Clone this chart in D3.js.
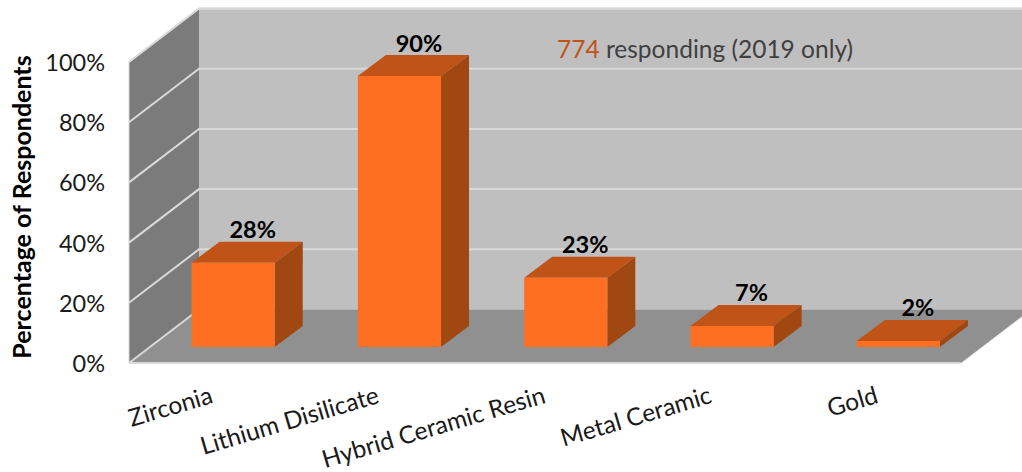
<!DOCTYPE html>
<html><head><meta charset="utf-8">
<script src="https://cdn.jsdelivr.net/npm/d3@7/dist/d3.min.js"></script>
<style>html,body{margin:0;background:#fff}svg{display:block}text{font-family:Lato,"Open Sans",sans-serif}</style>
</head><body><svg id="c" width="1022" height="472"></svg>
<script>
const categories = ["Zirconia","Lithium Disilicate","Hybrid Ceramic Resin","Metal Ceramic","Gold"];
const values = [28,90,23,7,2];
const yTicks = [0,20,40,60,80,100];
const note = ["774"," responding (2019 only)"];
const svg = d3.select("#c");
const W=1022,H=472;
// front plane of the chart box
const x = d3.scaleBand().domain(categories).range([150,981.5]).paddingInner(0.5).paddingOuter(0.25);
const y = d3.scaleLinear().domain([0,100]).range([363,62]);
const dx=70, dy=-53.5;           // full depth of the box
const barBase=347, bdx=28, bdy=-21; // bar base and bar depth
const h = v => y(0)-y(v);
const poly=(pts,fill,stroke)=>svg.append("polygon").attr("points",pts.map(p=>p.join(",")).join(" ")).attr("fill",fill).attr("stroke",stroke||"none");
const x0=129,x1=961.5;
// back wall
poly([[x0+dx,y(100)+dy],[W,y(100)+dy],[W,y(0)+dy],[x0+dx,y(0)+dy]],"#bfbfbf");
svg.append("line").attr("x1",x0+dx).attr("x2",W).attr("y1",y(100)+dy).attr("y2",y(100)+dy).attr("stroke","#d9d9d9").attr("stroke-width",2);
// side wall
poly([[x0,y(100)],[x0+dx,y(100)+dy],[x0+dx,y(0)+dy],[x0,y(0)]],"#7b7b7b");
// floor
poly([[x0,y(0)],[x0+dx,y(0)+dy],[W,y(0)+dy],[W,y(0)+dy*(W-x1)/dx],[x1,y(0)]],"#909090");
// gridlines
yTicks.forEach(t=>{
  const Y=y(t);
  svg.append("path").attr("fill","none").attr("stroke","#d9d9d9").attr("stroke-width",2)
   .attr("d",`M${x0},${Y}L${x0+dx},${Y+dy}`+(t===0?"":`L${W},${Y+dy}`));
});
svg.append("line").attr("x1",x0).attr("x2",x1).attr("y1",y(0)).attr("y2",y(0)).attr("stroke","#d9d9d9").attr("stroke-width",2);
svg.append("line").attr("x1",x0).attr("x2",x0).attr("y1",y(0)).attr("y2",y(100)).attr("stroke","#d9d9d9").attr("stroke-width",1);
svg.append("line").attr("x1",x0).attr("x2",x0+dx).attr("y1",y(100)).attr("y2",y(100)+dy).attr("stroke","#d9d9d9").attr("stroke-width",1.5);
svg.append("line").attr("x1",x1).attr("x2",W).attr("y1",y(0)).attr("y2",y(0)+dy*(W-x1)/dx).attr("stroke","#e4e4e4").attr("stroke-width",1);
// bars
categories.forEach((c,i)=>{
  const v=values[i], l=x(c), r=l+x.bandwidth(), t=barBase-h(v);
  poly([[l,t],[l+bdx,t+bdy],[r+bdx,t+bdy],[r,t]],"#c05317");
  poly([[r,t],[r+bdx,t+bdy],[r+bdx,barBase+bdy],[r,barBase]],"#a04712");
  poly([[l,barBase],[l,t],[r,t],[r,barBase]],"#ff6f21");
  svg.append("text").attr("x",(l+r)/2+bdx-8.5).attr("y",t+bdy-3.5).attr("text-anchor","middle")
    .attr("font-size",23.5).attr("font-weight",700).attr("fill","#000").text(v+"%");
  const ex=(l+r)/2-19, ey=402.5;
  svg.append("text").attr("transform",`translate(${ex},${ey}) rotate(-16.5)`).attr("text-anchor","end")
    .attr("font-size",24.5).attr("fill","#1a1a1a").text(c);
});
// y axis labels
yTicks.forEach(t=>svg.append("text").attr("x",105).attr("y",y(t)+9).attr("text-anchor","end").attr("font-size",23.5).attr("fill","#1a1a1a").text(t+"%"));
svg.append("text").attr("transform","translate(31,207) rotate(-90)").attr("text-anchor","middle").attr("font-size",25).attr("font-weight",700).attr("fill","#000").text("Percentage of Respondents");
const n=svg.append("text").attr("x",557).attr("y",58).attr("font-size",24.5).attr("fill","#404040");
n.append("tspan").attr("fill","#c05317").text(note[0]);
n.append("tspan").text(note[1]);
</script></body></html>
